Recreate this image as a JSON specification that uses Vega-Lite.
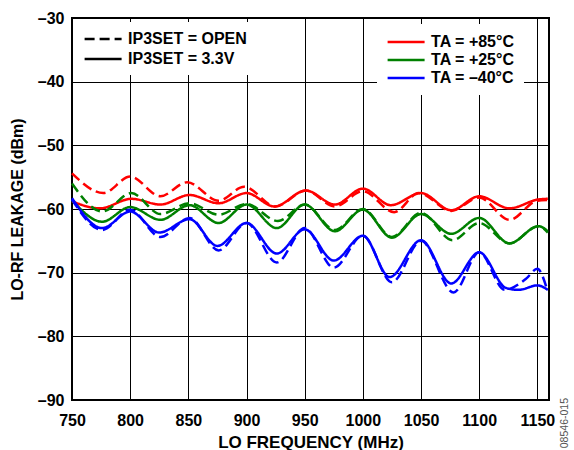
{
  "$schema": "https://vega.github.io/schema/vega-lite/v6.json",
  "width": 477,
  "height": 382,
  "autosize": {"type": "none"},
  "padding": {"left": 72, "top": 18, "right": 25, "bottom": 50},
  "title": {"text": "08546-015", "orient": "right", "anchor": "end", "angle": -90, "fontSize": 10.5, "fontWeight": "normal", "color": "#555555", "font": "Liberation Sans", "offset": -5, "dx": 52},
  "config": {
    "font": "Liberation Sans",
    "view": {"stroke": "black", "strokeWidth": 2},
    "axis": {
      "grid": true, "gridColor": "black", "gridOpacity": 1, "gridWidth": 1,
      "domain": false, "ticks": false,
      "labelFont": "Liberation Sans", "labelFontSize": 16, "labelFontWeight": "bold", "labelColor": "black",
      "titleFont": "Liberation Sans", "titleFontSize": 16.5, "titleFontWeight": "bold", "titleColor": "black",
      "labelOverlap": false, "labelFlush": false
    },
    "legend": {
      "labelFont": "Liberation Sans", "labelFontSize": 16, "labelFontWeight": "bold", "labelColor": "black",
      "labelLimit": 300, "symbolType": "M-2.5,0H2.5", "symbolSize": 219, "symbolStrokeWidth": 2.5,
      "symbolOffset": 11.1, "labelOffset": 16,
      "fillColor": "white", "strokeColor": null
    }
  },
  "data": {"values": [
    {"f":750,"dBm":-58.8,"temp":"TA = +85°C","mode":"IP3SET = 3.3V"},
    {"f":774,"dBm":-59.9,"temp":"TA = +85°C","mode":"IP3SET = 3.3V"},
    {"f":801,"dBm":-58.4,"temp":"TA = +85°C","mode":"IP3SET = 3.3V"},
    {"f":826,"dBm":-59.3,"temp":"TA = +85°C","mode":"IP3SET = 3.3V"},
    {"f":851,"dBm":-57.8,"temp":"TA = +85°C","mode":"IP3SET = 3.3V"},
    {"f":876,"dBm":-59.1,"temp":"TA = +85°C","mode":"IP3SET = 3.3V"},
    {"f":900,"dBm":-57.5,"temp":"TA = +85°C","mode":"IP3SET = 3.3V"},
    {"f":924,"dBm":-59.6,"temp":"TA = +85°C","mode":"IP3SET = 3.3V"},
    {"f":951,"dBm":-57.1,"temp":"TA = +85°C","mode":"IP3SET = 3.3V"},
    {"f":976,"dBm":-59.3,"temp":"TA = +85°C","mode":"IP3SET = 3.3V"},
    {"f":1000,"dBm":-56.8,"temp":"TA = +85°C","mode":"IP3SET = 3.3V"},
    {"f":1024,"dBm":-59.4,"temp":"TA = +85°C","mode":"IP3SET = 3.3V"},
    {"f":1050,"dBm":-57.5,"temp":"TA = +85°C","mode":"IP3SET = 3.3V"},
    {"f":1076,"dBm":-60.2,"temp":"TA = +85°C","mode":"IP3SET = 3.3V"},
    {"f":1100,"dBm":-58.0,"temp":"TA = +85°C","mode":"IP3SET = 3.3V"},
    {"f":1126,"dBm":-59.9,"temp":"TA = +85°C","mode":"IP3SET = 3.3V"},
    {"f":1151,"dBm":-58.5,"temp":"TA = +85°C","mode":"IP3SET = 3.3V"},
    {"f":1159,"dBm":-58.4,"temp":"TA = +85°C","mode":"IP3SET = 3.3V"},

    {"f":750,"dBm":-54.4,"temp":"TA = +85°C","mode":"IP3SET = OPEN"},
    {"f":777,"dBm":-57.5,"temp":"TA = +85°C","mode":"IP3SET = OPEN"},
    {"f":800,"dBm":-54.9,"temp":"TA = +85°C","mode":"IP3SET = OPEN"},
    {"f":826,"dBm":-58.0,"temp":"TA = +85°C","mode":"IP3SET = OPEN"},
    {"f":849,"dBm":-55.8,"temp":"TA = +85°C","mode":"IP3SET = OPEN"},
    {"f":876,"dBm":-58.7,"temp":"TA = +85°C","mode":"IP3SET = OPEN"},
    {"f":898,"dBm":-56.5,"temp":"TA = +85°C","mode":"IP3SET = OPEN"},
    {"f":925,"dBm":-59.6,"temp":"TA = +85°C","mode":"IP3SET = OPEN"},
    {"f":951,"dBm":-57.1,"temp":"TA = +85°C","mode":"IP3SET = OPEN"},
    {"f":976,"dBm":-59.6,"temp":"TA = +85°C","mode":"IP3SET = OPEN"},
    {"f":1000,"dBm":-57.2,"temp":"TA = +85°C","mode":"IP3SET = OPEN"},
    {"f":1027,"dBm":-60.5,"temp":"TA = +85°C","mode":"IP3SET = OPEN"},
    {"f":1048,"dBm":-57.5,"temp":"TA = +85°C","mode":"IP3SET = OPEN"},
    {"f":1076,"dBm":-60.3,"temp":"TA = +85°C","mode":"IP3SET = OPEN"},
    {"f":1100,"dBm":-58.2,"temp":"TA = +85°C","mode":"IP3SET = OPEN"},
    {"f":1126,"dBm":-61.7,"temp":"TA = +85°C","mode":"IP3SET = OPEN"},
    {"f":1150,"dBm":-58.7,"temp":"TA = +85°C","mode":"IP3SET = OPEN"},
    {"f":1159,"dBm":-58.6,"temp":"TA = +85°C","mode":"IP3SET = OPEN"},

    {"f":750,"dBm":-58.6,"temp":"TA = +25°C","mode":"IP3SET = 3.3V"},
    {"f":776,"dBm":-62.0,"temp":"TA = +25°C","mode":"IP3SET = 3.3V"},
    {"f":800,"dBm":-59.7,"temp":"TA = +25°C","mode":"IP3SET = 3.3V"},
    {"f":826,"dBm":-61.7,"temp":"TA = +25°C","mode":"IP3SET = 3.3V"},
    {"f":851,"dBm":-59.4,"temp":"TA = +25°C","mode":"IP3SET = 3.3V"},
    {"f":876,"dBm":-62.2,"temp":"TA = +25°C","mode":"IP3SET = 3.3V"},
    {"f":900,"dBm":-59.3,"temp":"TA = +25°C","mode":"IP3SET = 3.3V"},
    {"f":926,"dBm":-63.0,"temp":"TA = +25°C","mode":"IP3SET = 3.3V"},
    {"f":950,"dBm":-59.3,"temp":"TA = +25°C","mode":"IP3SET = 3.3V"},
    {"f":976,"dBm":-63.5,"temp":"TA = +25°C","mode":"IP3SET = 3.3V"},
    {"f":1000,"dBm":-60.1,"temp":"TA = +25°C","mode":"IP3SET = 3.3V"},
    {"f":1025,"dBm":-64.5,"temp":"TA = +25°C","mode":"IP3SET = 3.3V"},
    {"f":1050,"dBm":-60.8,"temp":"TA = +25°C","mode":"IP3SET = 3.3V"},
    {"f":1076,"dBm":-63.9,"temp":"TA = +25°C","mode":"IP3SET = 3.3V"},
    {"f":1100,"dBm":-61.4,"temp":"TA = +25°C","mode":"IP3SET = 3.3V"},
    {"f":1126,"dBm":-65.4,"temp":"TA = +25°C","mode":"IP3SET = 3.3V"},
    {"f":1151,"dBm":-62.7,"temp":"TA = +25°C","mode":"IP3SET = 3.3V"},
    {"f":1159,"dBm":-63.5,"temp":"TA = +25°C","mode":"IP3SET = 3.3V"},

    {"f":750,"dBm":-56.0,"temp":"TA = +25°C","mode":"IP3SET = OPEN"},
    {"f":776,"dBm":-60.4,"temp":"TA = +25°C","mode":"IP3SET = OPEN"},
    {"f":801,"dBm":-57.5,"temp":"TA = +25°C","mode":"IP3SET = OPEN"},
    {"f":826,"dBm":-60.8,"temp":"TA = +25°C","mode":"IP3SET = OPEN"},
    {"f":851,"dBm":-59.1,"temp":"TA = +25°C","mode":"IP3SET = OPEN"},
    {"f":876,"dBm":-60.9,"temp":"TA = +25°C","mode":"IP3SET = OPEN"},
    {"f":900,"dBm":-59.2,"temp":"TA = +25°C","mode":"IP3SET = OPEN"},
    {"f":927,"dBm":-61.9,"temp":"TA = +25°C","mode":"IP3SET = OPEN"},
    {"f":950,"dBm":-59.3,"temp":"TA = +25°C","mode":"IP3SET = OPEN"},
    {"f":976,"dBm":-63.3,"temp":"TA = +25°C","mode":"IP3SET = OPEN"},
    {"f":1000,"dBm":-60.0,"temp":"TA = +25°C","mode":"IP3SET = OPEN"},
    {"f":1025,"dBm":-64.4,"temp":"TA = +25°C","mode":"IP3SET = OPEN"},
    {"f":1050,"dBm":-60.6,"temp":"TA = +25°C","mode":"IP3SET = OPEN"},
    {"f":1077,"dBm":-64.9,"temp":"TA = +25°C","mode":"IP3SET = OPEN"},
    {"f":1100,"dBm":-62.2,"temp":"TA = +25°C","mode":"IP3SET = OPEN"},
    {"f":1126,"dBm":-65.4,"temp":"TA = +25°C","mode":"IP3SET = OPEN"},
    {"f":1151,"dBm":-62.7,"temp":"TA = +25°C","mode":"IP3SET = OPEN"},
    {"f":1159,"dBm":-63.7,"temp":"TA = +25°C","mode":"IP3SET = OPEN"},

    {"f":750,"dBm":-58.3,"temp":"TA = –40°C","mode":"IP3SET = 3.3V"},
    {"f":776,"dBm":-63.0,"temp":"TA = –40°C","mode":"IP3SET = 3.3V"},
    {"f":800,"dBm":-60.4,"temp":"TA = –40°C","mode":"IP3SET = 3.3V"},
    {"f":825,"dBm":-63.7,"temp":"TA = –40°C","mode":"IP3SET = 3.3V"},
    {"f":851,"dBm":-61.6,"temp":"TA = –40°C","mode":"IP3SET = 3.3V"},
    {"f":875,"dBm":-65.8,"temp":"TA = –40°C","mode":"IP3SET = 3.3V"},
    {"f":900,"dBm":-62.2,"temp":"TA = –40°C","mode":"IP3SET = 3.3V"},
    {"f":926,"dBm":-67.0,"temp":"TA = –40°C","mode":"IP3SET = 3.3V"},
    {"f":950,"dBm":-63.2,"temp":"TA = –40°C","mode":"IP3SET = 3.3V"},
    {"f":975,"dBm":-68.1,"temp":"TA = –40°C","mode":"IP3SET = 3.3V"},
    {"f":1000,"dBm":-64.2,"temp":"TA = –40°C","mode":"IP3SET = 3.3V"},
    {"f":1023,"dBm":-70.7,"temp":"TA = –40°C","mode":"IP3SET = 3.3V"},
    {"f":1050,"dBm":-64.9,"temp":"TA = –40°C","mode":"IP3SET = 3.3V"},
    {"f":1076,"dBm":-71.7,"temp":"TA = –40°C","mode":"IP3SET = 3.3V"},
    {"f":1100,"dBm":-66.8,"temp":"TA = –40°C","mode":"IP3SET = 3.3V"},
    {"f":1123,"dBm":-72.4,"temp":"TA = –40°C","mode":"IP3SET = 3.3V"},
    {"f":1134,"dBm":-72.7,"temp":"TA = –40°C","mode":"IP3SET = 3.3V"},
    {"f":1150,"dBm":-72.0,"temp":"TA = –40°C","mode":"IP3SET = 3.3V"},
    {"f":1159,"dBm":-72.7,"temp":"TA = –40°C","mode":"IP3SET = 3.3V"},

    {"f":750,"dBm":-58.5,"temp":"TA = –40°C","mode":"IP3SET = OPEN"},
    {"f":776,"dBm":-63.3,"temp":"TA = –40°C","mode":"IP3SET = OPEN"},
    {"f":800,"dBm":-60.1,"temp":"TA = –40°C","mode":"IP3SET = OPEN"},
    {"f":826,"dBm":-64.4,"temp":"TA = –40°C","mode":"IP3SET = OPEN"},
    {"f":851,"dBm":-61.4,"temp":"TA = –40°C","mode":"IP3SET = OPEN"},
    {"f":876,"dBm":-66.5,"temp":"TA = –40°C","mode":"IP3SET = OPEN"},
    {"f":900,"dBm":-62.2,"temp":"TA = –40°C","mode":"IP3SET = OPEN"},
    {"f":926,"dBm":-68.4,"temp":"TA = –40°C","mode":"IP3SET = OPEN"},
    {"f":950,"dBm":-63.0,"temp":"TA = –40°C","mode":"IP3SET = OPEN"},
    {"f":975,"dBm":-69.2,"temp":"TA = –40°C","mode":"IP3SET = OPEN"},
    {"f":1000,"dBm":-64.2,"temp":"TA = –40°C","mode":"IP3SET = OPEN"},
    {"f":1025,"dBm":-71.5,"temp":"TA = –40°C","mode":"IP3SET = OPEN"},
    {"f":1050,"dBm":-65.0,"temp":"TA = –40°C","mode":"IP3SET = OPEN"},
    {"f":1078,"dBm":-73.1,"temp":"TA = –40°C","mode":"IP3SET = OPEN"},
    {"f":1100,"dBm":-66.8,"temp":"TA = –40°C","mode":"IP3SET = OPEN"},
    {"f":1122,"dBm":-72.7,"temp":"TA = –40°C","mode":"IP3SET = OPEN"},
    {"f":1140,"dBm":-71.0,"temp":"TA = –40°C","mode":"IP3SET = OPEN"},
    {"f":1150,"dBm":-69.4,"temp":"TA = –40°C","mode":"IP3SET = OPEN"},
    {"f":1158,"dBm":-72.4,"temp":"TA = –40°C","mode":"IP3SET = OPEN"}
  ]},
  "mark": {"type": "line", "interpolate": "monotone", "strokeWidth": 2.5},
  "encoding": {
    "x": {
      "field": "f", "type": "quantitative",
      "scale": {"domain": [750, 1160], "nice": false, "zero": false},
      "axis": {"values": [750, 800, 850, 900, 950, 1000, 1050, 1100, 1150], "format": "d", "title": "LO FREQUENCY (MHz)", "titleFontSize": 17, "labelPadding": 12, "titlePadding": 6}
    },
    "y": {
      "field": "dBm", "type": "quantitative",
      "scale": {"domain": [-90, -30], "nice": false, "zero": false},
      "axis": {"values": [-90, -80, -70, -60, -50, -40, -30], "title": "LO-RF LEAKAGE (dBm)", "titleFontSize": 16, "labelPadding": 8, "titlePadding": 12, "labelExpr": "replace(datum.label, '−', '–')"}
    },
    "color": {
      "field": "temp", "type": "nominal",
      "scale": {"domain": ["TA = +85°C", "TA = +25°C", "TA = –40°C"], "range": ["#ff0000", "#008000", "#0000ff"]},
      "legend": {"orient": "none", "legendX": 305, "legendY": 6, "title": null, "padding": 9, "rowPadding": 1, "symbolDash": [1, 0]}
    },
    "strokeDash": {
      "field": "mode", "type": "nominal",
      "scale": {"domain": ["IP3SET = OPEN", "IP3SET = 3.3V"], "range": [[10, 5], [1, 0]]},
      "legend": {"orient": "none", "legendX": 3, "legendY": 4, "title": null, "padding": 8, "rowPadding": 3, "symbolStrokeColor": "black"}
    }
  }
}
